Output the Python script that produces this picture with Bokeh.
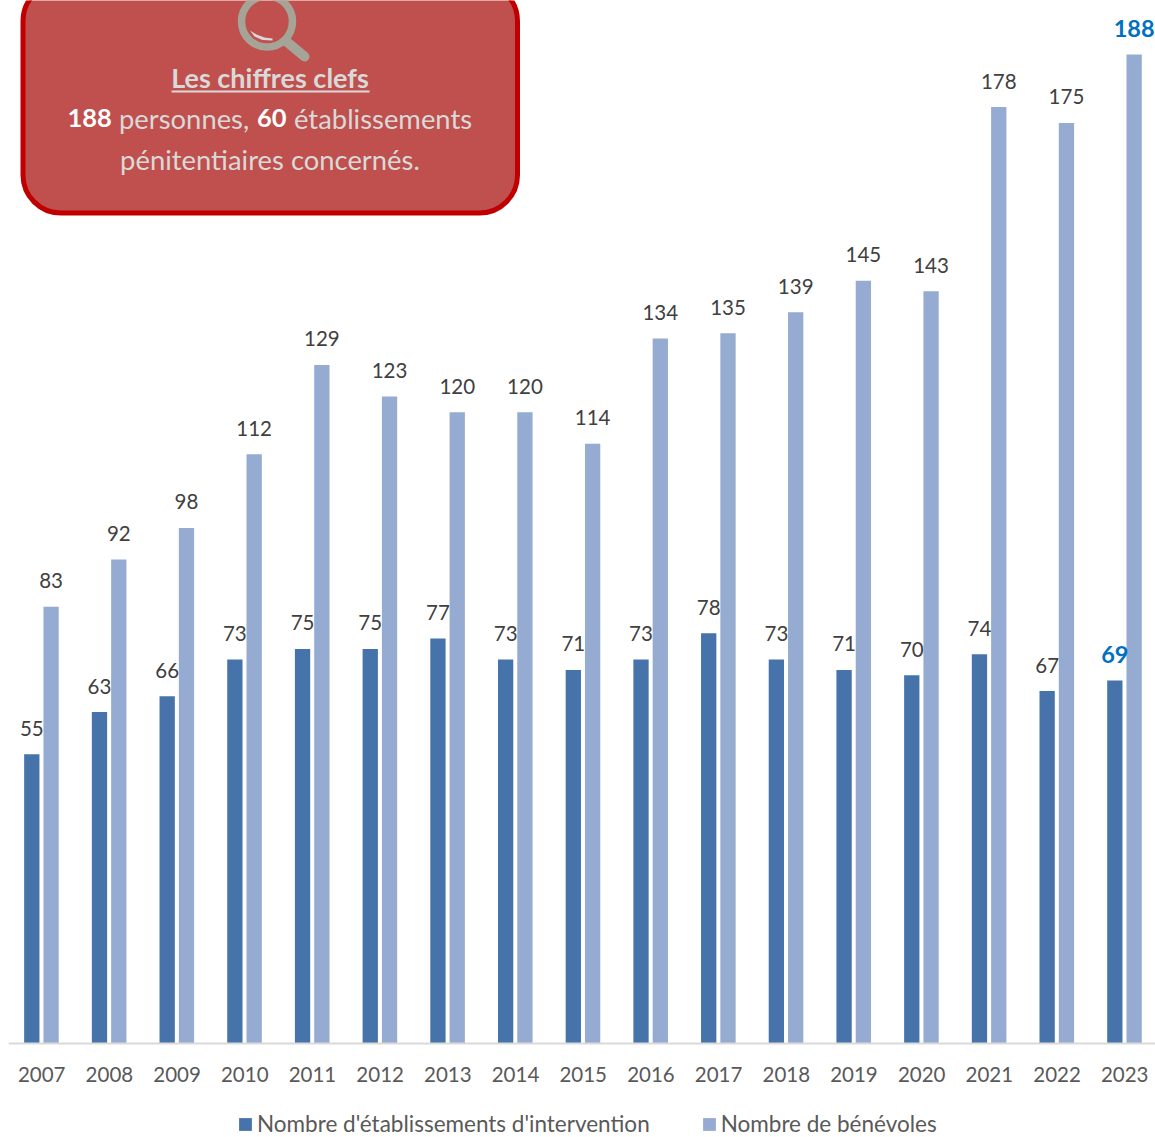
from bokeh.plotting import figure
from bokeh.embed import file_html
from bokeh.resources import INLINE
from bokeh.core.properties import value
from bokeh.models import Label, Legend, LegendItem, FixedTicker, Range1d

years = [2007, 2008, 2009, 2010, 2011, 2012, 2013, 2014, 2015, 2016, 2017, 2018, 2019, 2020, 2021, 2022, 2023]
etablissements = [55, 63, 66, 73, 75, 75, 77, 73, 71, 73, 78, 73, 71, 70, 74, 67, 69]
benevoles = [83, 92, 98, 112, 129, 123, 120, 120, 114, 134, 135, 139, 145, 143, 178, 175, 188]
series_names = ["Nombre d'établissements d'intervention", "Nombre de bénévoles"]

FONT = "Lato"
W, H = 1155, 1137
PX_X = 67.69
PX_Y = 5.2606
BASE = 1043.0
x0 = 2007 - (41.2 - 8) / PX_X

def dx(px):
    return x0 + (px - 8) / PX_X

def dy(py):
    return (BASE - py) / PX_Y

p = figure(width=W, height=H, output_backend="svg", toolbar_location=None,
           x_range=Range1d(x0, x0 + (W - 8) / PX_X), y_range=Range1d(dy(H), dy(0)),
           min_border_left=8, min_border_right=0, min_border_top=0, min_border_bottom=0,
           outline_line_color=None, background_fill_color="white", border_fill_color="white")
p.grid.visible = False
p.yaxis.visible = False

ax = p.xaxis[0]
ax.fixed_location = 0
ax.ticker = FixedTicker(ticks=years)
ax.major_label_overrides = {y: str(y) for y in years}
ax.major_tick_line_color = None
ax.minor_tick_line_color = None
ax.axis_line_color = "#d9d9d9"
ax.axis_line_width = 2
ax.major_label_text_font = FONT
ax.major_label_text_font_size = "20.5px"
ax.major_label_text_color = "#595959"
ax.major_label_standoff = 17

off_d, off_l = -9.9 / PX_X, 9.4 / PX_X
bw = 15.3 / PX_X
xd = [y + off_d for y in years]
xl = [y + off_l for y in years]
r1 = p.vbar(x=xd, top=etablissements, bottom=0, width=bw, fill_color="#4674AA", line_color=None)
r2 = p.vbar(x=xl, top=benevoles, bottom=0, width=bw, fill_color="#95ABD2", line_color=None)

lab = dict(text_font=value(FONT), text_font_size="20.5px", text_align="center", text_baseline="middle", y_offset=-26)
p.text(x=xd[:-1], y=etablissements[:-1], text=[str(v) for v in etablissements[:-1]], text_color="#404040", **lab)
p.text(x=xl[:-1], y=benevoles[:-1], text=[str(v) for v in benevoles[:-1]], text_color="#404040", **lab)
p.text(x=xd[-1:], y=etablissements[-1:], text=[str(v) for v in etablissements[-1:]], text_color="#0070C0",
       text_font_style="bold", **{**lab, "text_font_size": "23.5px"})
p.text(x=xl[-1:], y=benevoles[-1:], text=[str(v) for v in benevoles[-1:]], text_color="#0070C0",
       text_font_style="bold", **{**lab, "text_font_size": "23.5px"})

# callout
p.quad(left=dx(22.5), right=dx(517), top=dy(-17.5), bottom=dy(212.5),
       fill_color="#C0504D", line_color="#C00000", line_width=5, border_radius=38)

# magnifier
ICON = "#A5A497"
p.scatter(x=[dx(266.5)], y=[dy(21)], size=51, marker="circle", fill_alpha=0, line_color=ICON, line_width=7.5)
p.line(x=[dx(286), dx(304)], y=[dy(41), dy(56)], line_color=ICON, line_width=10, line_cap="round")
p.patch(x=[dx(v) for v in (249.5, 256, 264, 272, 272, 262, 254)],
        y=[dy(v) for v in (30, 34, 37, 38, 40, 39.5, 36)], fill_color="#D9D9D9", line_color=None)

def txt(x, y, s, color, bold=False, align="left", size="27.4px"):
    p.add_layout(Label(x=x, y=y, x_units="canvas", y_units="canvas", text=s, text_color=color,
                       text_font=FONT, text_font_size=size, text_align=align, text_baseline="middle",
                       text_font_style="bold" if bold else "normal", level="overlay"))

GREY = "#D9D9D9"
txt(269.5, 76.5, "Les chiffres clefs", GREY, True, "center", "27px")
p.line(x=[dx(171), dx(369)], y=[dy(91), dy(91)], line_color=GREY, line_width=2)
txt(67, 117.5, "188", "white", True, size="25.5px")
txt(118.5, 117.5, "personnes,", GREY)
txt(256.5, 117.5, "60", "white", True, size="25.5px")
txt(293.5, 117.5, "établissements", GREY)
txt(269.5, 158.5, "pénitentiaires concernés.", GREY, align="center")

legend = Legend(items=[LegendItem(label=series_names[0], renderers=[r1]),
                       LegendItem(label=series_names[1], renderers=[r2])],
                orientation="horizontal", location=(229, 0),
                background_fill_alpha=0, border_line_color=None,
                glyph_width=16, glyph_height=16, label_standoff=4, spacing=51, padding=0, margin=0,
                label_text_font=FONT, label_text_font_size="22.5px", label_text_color="#595959")
p.add_layout(legend, "center")

open("out.html", "w").write(file_html(p, INLINE))
